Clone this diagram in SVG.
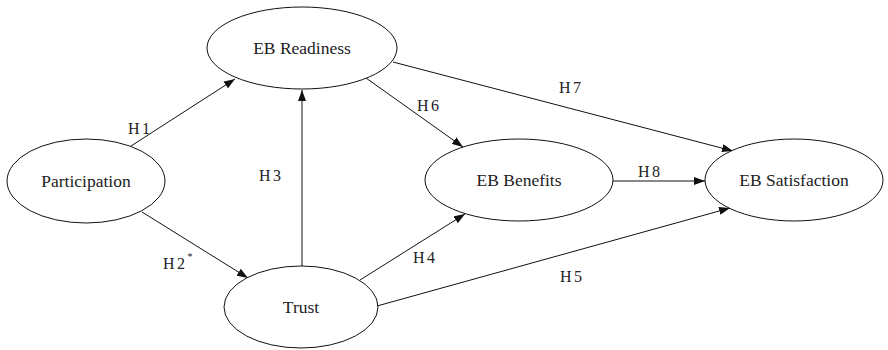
<svg xmlns="http://www.w3.org/2000/svg" width="888" height="350" viewBox="0 0 888 350">
<style>
text{font-family:"Liberation Serif","Times New Roman","DejaVu Serif",serif}
.node ellipse{fill:#fff;stroke:#111;stroke-width:1}
.node text{font-size:17.5px;fill:#222;text-anchor:middle}
.edge{stroke:#111;stroke-width:1;fill:none;marker-end:url(#arr)}
.lbl{font-size:16px;fill:#222;letter-spacing:2.5px}
</style>
<defs>
<marker id="arr" markerWidth="12" markerHeight="8" refX="11" refY="4" orient="auto" markerUnits="userSpaceOnUse">
<path d="M0,0 L11,4 L0,8 Z" fill="#111"/>
</marker>
</defs>
<rect width="888" height="350" fill="#fff"/>
<g id="edges">
<line class="edge" x1="131" y1="146" x2="235" y2="79"/>
<line class="edge" x1="142" y1="212" x2="248" y2="278"/>
<line class="edge" x1="302" y1="266" x2="302" y2="90"/>
<line class="edge" x1="360" y1="280" x2="465" y2="214"/>
<line class="edge" x1="377" y1="306" x2="730" y2="208"/>
<line class="edge" x1="366" y1="78" x2="463" y2="147"/>
<line class="edge" x1="393" y1="62" x2="733" y2="151"/>
<line class="edge" x1="613" y1="181" x2="705" y2="181"/>
</g>
<g id="edge-labels">
<text class="lbl" x="128" y="134" font-family="Liberation Serif, DejaVu Serif, serif">H1</text>
<text class="lbl" x="163" y="269" font-family="Liberation Serif, DejaVu Serif, serif">H2<tspan font-size="10" dy="-9">*</tspan></text>
<text class="lbl" x="259" y="181" font-family="Liberation Serif, DejaVu Serif, serif">H3</text>
<text class="lbl" x="413" y="263" font-family="Liberation Serif, DejaVu Serif, serif">H4</text>
<text class="lbl" x="560" y="282" font-family="Liberation Serif, DejaVu Serif, serif">H5</text>
<text class="lbl" x="417" y="111" font-family="Liberation Serif, DejaVu Serif, serif">H6</text>
<text class="lbl" x="559" y="93" font-family="Liberation Serif, DejaVu Serif, serif">H7</text>
<text class="lbl" x="638" y="177" font-family="Liberation Serif, DejaVu Serif, serif">H8</text>
</g>
<g id="participation" class="node">
<ellipse cx="86" cy="181" rx="79" ry="42"/>
<text x="86" y="187" font-family="Liberation Serif, DejaVu Serif, serif">Participation</text>
</g>
<g id="eb-readiness" class="node">
<ellipse cx="302" cy="48" rx="95" ry="41"/>
<text x="302" y="54" font-family="Liberation Serif, DejaVu Serif, serif">EB Readiness</text>
</g>
<g id="trust" class="node">
<ellipse cx="301" cy="307" rx="77" ry="41"/>
<text x="301" y="313" font-family="Liberation Serif, DejaVu Serif, serif">Trust</text>
</g>
<g id="eb-benefits" class="node">
<ellipse cx="519" cy="180" rx="94" ry="41"/>
<text x="519" y="186" font-family="Liberation Serif, DejaVu Serif, serif">EB Benefits</text>
</g>
<g id="eb-satisfaction" class="node">
<ellipse cx="794" cy="180" rx="89" ry="41"/>
<text x="794" y="186" font-family="Liberation Serif, DejaVu Serif, serif">EB Satisfaction</text>
</g>
</svg>
